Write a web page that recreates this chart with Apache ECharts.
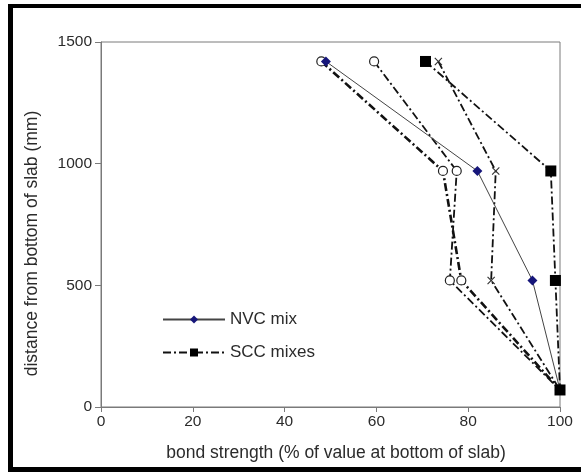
<!DOCTYPE html>
<html>
<head>
<meta charset="utf-8">
<script src="https://cdn.jsdelivr.net/npm/echarts@6/dist/echarts.min.js"></script>
<style>
  html, body { margin: 0; padding: 0; background: #fff; overflow: hidden; }
  #chart { position: absolute; left: 0; top: 0; width: 581px; height: 472px; }
  /* heavy black rule along the top, left and bottom edges of the page */
  #frame {
    position: absolute; left: 8px; top: 4px; width: 620px; height: 459px;
    border-top: 4px solid #000; border-left: 5px solid #000; border-bottom: 5px solid #000;
    pointer-events: none;
  }
</style>
</head>
<body>
<div id="chart"></div>
<div id="frame"></div>
<script>
// Heights of the test positions (mm from bottom of slab)
const heights = [1420, 970, 520, 70];

// Bond strength, % of value at bottom of slab
const nvcMix = [49, 82, 94, 100];
const sccCircleA = [48, 74.5, 78.5, 100];
const sccCircleB = [59.5, 77.5, 76, 100];
const sccCross = [73.5, 86, 85, 100];
const sccSquare = [70.7, 98, 99, 100];

const xTicks = [0, 20, 40, 60, 80, 100];
const yTicks = [0, 500, 1000, 1500];

const pairs = (xs) => xs.map((v, i) => [v, heights[i]]);

const FONT = 'Liberation Sans, Arial, sans-serif';
const TXT = '#2b2b2b';
const AXIS = '#7a7a7a';
const dashDot = [8, 3, 2, 3];
const crossPath = 'path://M0,1L1,0L5,4L9,0L10,1L6,5L10,9L9,10L5,6L1,10L0,9L4,5Z';

const chart = echarts.init(document.getElementById('chart'), null, { renderer: 'canvas' });

chart.setOption({
  animation: false,
  backgroundColor: '#fff',
  grid: {
    left: 101, right: 21, top: 42, bottom: 65,
    show: true, borderColor: AXIS, borderWidth: 1, backgroundColor: 'transparent'
  },
  legend: {
    orient: 'vertical',
    left: 162, top: 311, padding: 0,
    itemWidth: 62, itemHeight: 10, itemGap: 16,
    data: ['NVC mix', 'SCC mixes'],
    textStyle: { fontFamily: FONT, fontSize: 17, color: TXT }
  },
  xAxis: {
    type: 'value', min: xTicks[0], max: xTicks[xTicks.length - 1], interval: 20,
    name: 'bond strength (% of value at bottom of slab)',
    nameLocation: 'middle', nameGap: 37,
    nameTextStyle: { fontFamily: FONT, fontSize: 17.5, color: TXT, padding: [0, 0, 0, 11] },
    axisLine: { show: true, lineStyle: { color: AXIS, width: 1 } },
    axisTick: { show: true, length: 5, lineStyle: { color: AXIS } },
    axisLabel: { fontFamily: FONT, fontSize: 15.5, color: TXT, margin: 7 },
    splitLine: { show: false }
  },
  yAxis: {
    type: 'value', min: yTicks[0], max: yTicks[yTicks.length - 1], interval: 500,
    name: 'distance from bottom of slab (mm)',
    nameLocation: 'middle', nameGap: 60,
    nameTextStyle: { fontFamily: FONT, fontSize: 17.5, color: TXT, padding: [0, 38, 0, 0] },
    axisLine: { show: true, lineStyle: { color: AXIS, width: 1 } },
    axisTick: { show: true, length: 6, lineStyle: { color: AXIS } },
    axisLabel: { fontFamily: FONT, fontSize: 15.5, color: TXT, margin: 9, formatter: (v) => String(v) },
    splitLine: { show: false }
  },
  series: [
    {
      name: 'SCC circle A', type: 'line', data: pairs(sccCircleA),
      symbol: 'circle', symbolSize: 9,
      itemStyle: { color: '#fff', borderColor: '#222', borderWidth: 1.2 },
      lineStyle: { color: '#111', width: 2.6, type: dashDot },
      z: 3
    },
    {
      name: 'SCC circle B', type: 'line', data: pairs(sccCircleB),
      symbol: 'circle', symbolSize: 9,
      itemStyle: { color: '#fff', borderColor: '#222', borderWidth: 1.2 },
      lineStyle: { color: '#111', width: 1.8, type: dashDot },
      z: 3
    },
    {
      name: 'SCC cross', type: 'line', data: pairs(sccCross),
      symbol: crossPath, symbolSize: 8,
      itemStyle: { color: '#333' },
      lineStyle: { color: '#111', width: 1.8, type: dashDot },
      z: 3
    },
    {
      name: 'NVC mix', type: 'line', data: pairs(nvcMix),
      symbol: 'diamond', symbolSize: 10,
      itemStyle: { color: '#16167a' },
      lineStyle: { color: '#444', width: 1, type: 'solid' },
      z: 4
    },
    {
      name: 'SCC mixes', type: 'line', data: pairs(sccSquare),
      symbol: 'rect', symbolSize: 11,
      itemStyle: { color: '#000' },
      lineStyle: { color: '#111', width: 1.8, type: dashDot },
      z: 5
    }
  ]
});
</script>
</body>
</html>
